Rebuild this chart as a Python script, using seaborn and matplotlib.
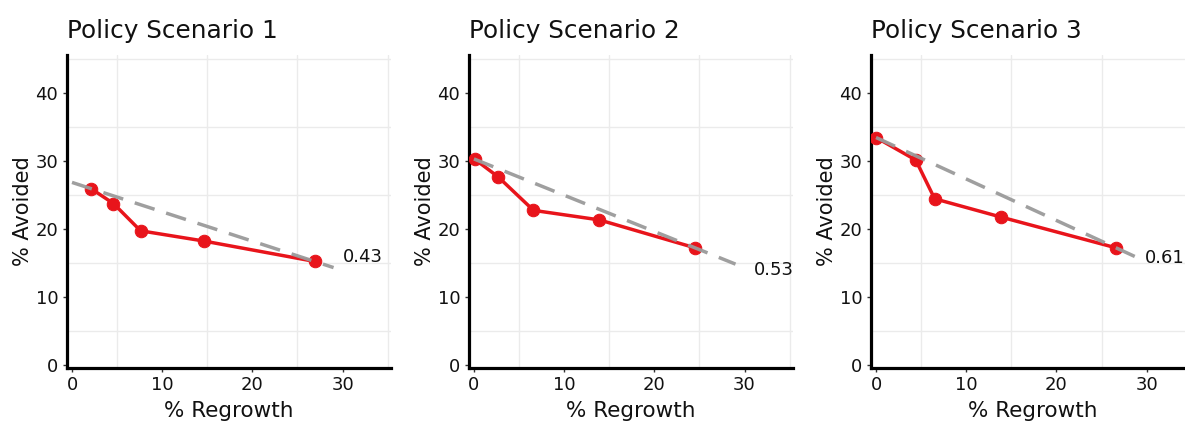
import numpy as np
import pandas as pd
import matplotlib
matplotlib.use("Agg")
import matplotlib.pyplot as plt
import seaborn as sns

# Regrowth (%) vs avoided (%) for each policy scenario
titles = ["Policy Scenario 1", "Policy Scenario 2", "Policy Scenario 3"]
regrowth_1 = [2.1, 4.6, 7.6, 14.6, 26.9]
avoided_1 = [25.9, 23.7, 19.7, 18.2, 15.2]
regrowth_2 = [0.1, 2.7, 6.6, 13.9, 24.5]
avoided_2 = [30.2, 27.6, 22.7, 21.3, 17.2]
regrowth_3 = [0.0, 4.4, 6.5, 13.9, 26.6]
avoided_3 = [33.4, 30.1, 24.4, 21.7, 17.2]
x_ticks = [0, 10, 20, 30]
y_ticks = [0, 10, 20, 30, 40]

series = [(regrowth_1, avoided_1), (regrowth_2, avoided_2), (regrowth_3, avoided_3)]
# where each slope label sits (data coords)
label_xy = [(30.0, 15.8), (31.0, 13.9), (29.8, 15.7)]

sns.set_theme(style="white")
plt.rcParams["font.family"] = ["DejaVu Sans"]

RED = "#E8141B"
GREY = "#9A9A9A"

fig = plt.figure(figsize=(11.85, 4.21), dpi=100)
lefts = [0.0562, 0.3954, 0.7347]

for i, ((rx, ay), title) in enumerate(zip(series, titles)):
    ax = fig.add_axes([lefts[i], 0.126, 0.274, 0.743])
    df = pd.DataFrame({"regrowth": rx, "avoided": ay})

    sns.lineplot(data=df, x="regrowth", y="avoided", ax=ax, color=RED,
                 linewidth=2.5, marker="o", markersize=9,
                 markeredgecolor=RED, markerfacecolor=RED, zorder=3)

    # trade-off line through the first and last scenario points
    slope = (ay[-1] - ay[0]) / (rx[-1] - rx[0])
    x_line = np.array([0.0, 29.0])
    y_line = ay[0] + slope * (x_line - rx[0])
    ax.plot(x_line, y_line, color=GREY, linewidth=2.5,
            dashes=(6.0, 3.5), zorder=4, alpha=0.95)
    lx, ly = label_xy[i]
    ax.text(lx, ly, f"{abs(slope):.2f}", fontsize=13, ha="left",
            va="center", color="#111111")

    ax.set_xlim(-0.6, 35.4)
    ax.set_ylim(-0.45, 45.5)
    ax.set_xticks(x_ticks)
    ax.set_yticks(y_ticks)
    ax.set_xticks([5, 15, 25, 35], minor=True)
    ax.set_yticks([5, 15, 25, 35, 45], minor=True)
    ax.grid(False, which="major")
    ax.grid(True, which="minor", color="#EBEBEB", linewidth=1.0)
    ax.set_axisbelow(True)

    ax.tick_params(which="major", length=3, width=1, color="#333333",
                   labelsize=13, labelcolor="#111111", pad=3,
                   bottom=True, left=True)
    ax.tick_params(which="minor", length=0)

    for side in ["top", "right"]:
        ax.spines[side].set_visible(False)
    for side in ["left", "bottom"]:
        ax.spines[side].set_color("black")
        ax.spines[side].set_linewidth(2.3)

    ax.set_xlabel("% Regrowth", fontsize=15.5, color="#111111", labelpad=5)
    ax.set_ylabel("% Avoided", fontsize=15, color="#111111", labelpad=1.5)
    ax.set_title(title, loc="left", fontsize=17.8, color="#111111", pad=12.5)

fig.savefig("out.png", dpi=100, facecolor="white")
